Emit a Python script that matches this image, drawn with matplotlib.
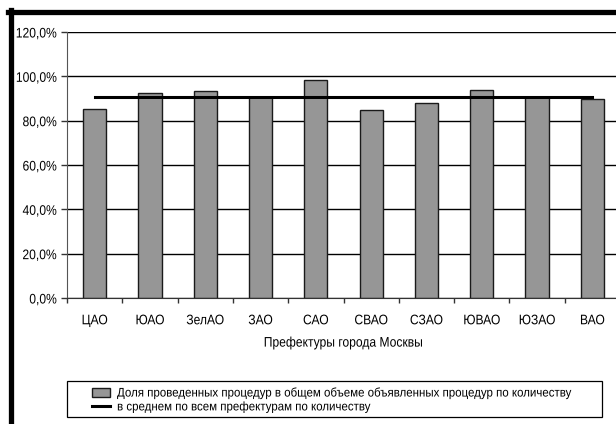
import matplotlib
matplotlib.use("Agg")
import matplotlib.pyplot as plt
from matplotlib.lines import Line2D
from matplotlib.patches import Rectangle
from matplotlib.patheffects import AbstractPathEffect
from matplotlib.transforms import Affine2D
from matplotlib.ticker import FuncFormatter, FixedLocator
import numpy as np

plt.rcParams['font.family'] = ['Liberation Sans', 'DejaVu Sans']

categories = ['ЦАО', 'ЮАО', 'ЗелАО', 'ЗАО', 'САО', 'СВАО', 'СЗАО', 'ЮВАО', 'ЮЗАО', 'ВАО']
share = [85.4, 92.4, 93.4, 90.6, 98.2, 85.0, 88.0, 93.9, 90.6, 89.8]
average = [90.7] * len(categories)

bar_label = 'Доля проведенных процедур в общем объеме объявленных процедур по количеству'
line_label = 'в среднем по всем префектурам по количеству'


class Squeeze(AbstractPathEffect):
    # narrow the glyphs horizontally (the original uses a condensed Arial)
    def __init__(self, sx=0.87, anchor='center'):
        super().__init__()
        self.sx = sx
        self.anchor = anchor

    def draw_path(self, renderer, gc, tpath, affine, rgbFace=None):
        ext = tpath.get_extents()
        cx = {'left': ext.x0, 'center': (ext.x0 + ext.x1) / 2, 'right': ext.x1}[self.anchor]
        t = Affine2D().translate(-cx, 0).scale(self.sx, 1).translate(cx, 0) + affine
        renderer.draw_path(gc, tpath, t, rgbFace)


W, H = 616, 424
fig = plt.figure(figsize=(W / 100, H / 100), dpi=100)
ax = fig.add_axes([67 / W, 1 - 298 / H, 553 / W, 266 / H])

x = np.arange(len(categories))
ax.grid(axis='y', color='black', linewidth=1.0, zorder=0)
bars = ax.bar(x, share, width=0.42, color='#969696', edgecolor='#1a1a1a', linewidth=1.0,
              zorder=2, label=bar_label)
line, = ax.plot(x, average, color='black', linewidth=2.2, zorder=3, label=line_label)

ax.set_xlim(-0.5, len(categories) - 0.5)
ax.set_ylim(0, 120)
ax.set_yticks(np.arange(0, 121, 20))
ax.yaxis.set_major_formatter(FuncFormatter(lambda v, p: f'{v:.1f}%'.replace('.', ',')))
ax.set_xticks(x)
ax.set_xticklabels(categories)
ax.xaxis.set_minor_locator(FixedLocator(np.arange(-0.5, len(categories), 1.0)))
ax.tick_params(axis='x', which='major', length=0, pad=11, labelsize=10)
ax.tick_params(axis='x', which='minor', length=3.6, direction='out', width=1, color='#333333')
ax.tick_params(axis='y', length=4.3, direction='out', width=1, color='#333333', labelsize=10, pad=3)

for side in ['top', 'right']:
    ax.spines[side].set_visible(False)
ax.spines['left'].set_color('#555555')
ax.spines['bottom'].set_color('#333333')
ax.axhline(120, color='#888888', linewidth=1.5, zorder=1)

xl = ax.set_xlabel('Префектуры города Москвы', fontsize=10, labelpad=6)
xl.set_path_effects([Squeeze(anchor='center')])
for t in ax.get_xticklabels():
    t.set_path_effects([Squeeze(anchor='center')])
for t in ax.get_yticklabels():
    t.set_path_effects([Squeeze(anchor='right')])

# legend frame drawn separately, contents placed inside
fig.add_artist(Rectangle((67 / W, 1 - 417 / H), 535 / W, 36 / H, transform=fig.transFigure,
                         facecolor='white', edgecolor='black', linewidth=0.9))
leg = fig.legend([bars, line], [bar_label, line_label], loc='center left',
                 bbox_to_anchor=(92 / W, 1 - 400 / H), borderaxespad=0, borderpad=0,
                 fontsize=9, frameon=False, handlelength=1.45, handleheight=0.7,
                 handletextpad=0.55, labelspacing=0.15)
for t in leg.get_texts():
    t.set_path_effects([Squeeze(sx=0.92, anchor='left')])

# thick chart border (left and top)
fig.add_artist(Line2D([8 / W, 1.0], [1 - 12 / H, 1 - 12 / H], color='black', linewidth=3.8,
                      transform=fig.transFigure))
fig.add_artist(Line2D([10.5 / W, 10.5 / W], [0, 1 - 10 / H], color='black', linewidth=3.8,
                      transform=fig.transFigure))

fig.savefig('out.png', dpi=100)
